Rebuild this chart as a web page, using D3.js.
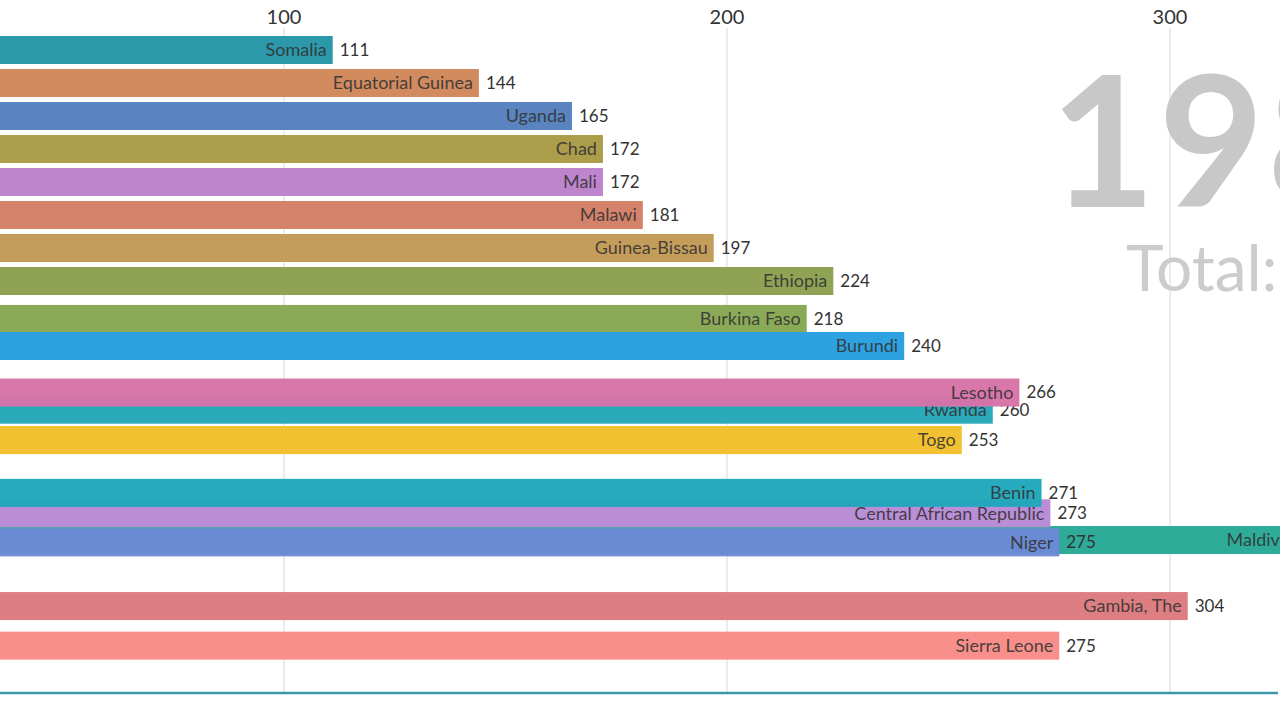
<!DOCTYPE html>
<html>
<head>
<meta charset="utf-8">
<script src="https://cdn.jsdelivr.net/npm/d3@7"></script>
<style>
  body { margin: 0; background: #fff; overflow: hidden; }
  svg { display: block; font-family: "Lato", "Open Sans", sans-serif; }
</style>
</head>
<body>
<div id="chart"></div>
<script>
// one frame of the race: names, values and the (in-between) rank of each bar
const names = ["Somalia", "Equatorial Guinea", "Uganda", "Chad", "Mali", "Malawi",
  "Guinea-Bissau", "Ethiopia", "Burkina Faso", "Burundi", "Rwanda", "Lesotho", "Togo",
  "Maldives", "Niger", "Central African Republic", "Benin", "Gambia, The", "Sierra Leone"];
const values = [111, 144, 165, 172, 172, 181, 197, 224, 218, 240, 260, 266, 253,
  330, 275, 273, 271, 304, 275];
const ranks = [0, 1, 2, 3, 4, 5, 6, 7, 8.15, 8.97, 10.9, 10.38, 11.82,
  14.85, 14.92, 14.04, 13.42, 16.85, 18.05];
const colors = ["#2596a8", "#d0875a", "#5480bd", "#a99a45", "#bd80cc", "#d47e66",
  "#c39a56", "#8ca04e", "#87a753", "#279fe0", "#24a7b8", "#d873a8", "#f1bf2b",
  "#27a896", "#6d88d6", "#b88ad6", "#1fa7bc", "#dc7a7e", "#f88b86"];
const ticks = [100, 200, 300];
const year = "1985";

const width = 1280, height = 720;

const svg = d3.select("#chart").append("svg")
  .attr("width", width)
  .attr("height", height);

const x = d3.scaleLinear().domain([0, 300]).range([-159, 1170]);
const y = d3.scaleLinear().domain([0, 1]).range([50, 83]);
const barH = 28;

// grid
svg.append("g")
  .selectAll("line")
  .data(ticks)
  .join("line")
    .attr("x1", d => x(d)).attr("x2", d => x(d))
    .attr("y1", 28).attr("y2", 692)
    .attr("stroke", "#e6e6e6")
    .attr("stroke-width", 1.5);

svg.append("g")
  .selectAll("text")
  .data(ticks)
  .join("text")
    .attr("x", d => x(d))
    .attr("y", 24)
    .attr("text-anchor", "middle")
    .style("font-size", "20px")
    .attr("fill", "#333")
    .text(d => d);

// big year + total
svg.append("text")
  .attr("x", 1050).attr("y", 207)
  .style("font-size", "182px").style("font-weight", 700)
  .style("letter-spacing", "3px")
  .attr("fill", "#c8c8c8")
  .text(year);

svg.append("text")
  .attr("x", 1126).attr("y", 291)
  .style("font-size", "64px")
  .attr("fill", "#cccccc")
  .text("Total: " + d3.sum(values));

const rows = names.map((n, i) => ({name: n, value: values[i], rank: ranks[i], color: colors[i]}));

const bar = svg.append("g")
  .selectAll("g")
  .data(rows)
  .join("g");

bar.append("rect")
  .attr("x", x(0))
  .attr("y", d => y(d.rank) - barH / 2)
  .attr("width", d => x(d.value) - x(0))
  .attr("height", barH)
  .attr("fill", d => d.color)
  .attr("fill-opacity", 0.97);

bar.append("text")
  .attr("x", d => x(d.value) - 6)
  .attr("y", d => y(d.rank))
  .attr("dy", "0.35em")
  .attr("text-anchor", "end")
  .style("font-size", "18px")
  .attr("fill", "#333")
  .attr("fill-opacity", 0.9)
  .text(d => d.name);

bar.append("text")
  .attr("x", d => x(d.value) + 7)
  .attr("y", d => y(d.rank))
  .attr("dy", "0.35em")
  .style("font-size", "17px")
  .attr("fill", "#333")
  .text(d => d.value);

// bottom line
svg.append("line")
  .attr("x1", 0).attr("x2", 1278)
  .attr("y1", 693).attr("y2", 693)
  .attr("stroke", "#3a98ab")
  .attr("stroke-width", 2.5);
</script>
</body>
</html>
